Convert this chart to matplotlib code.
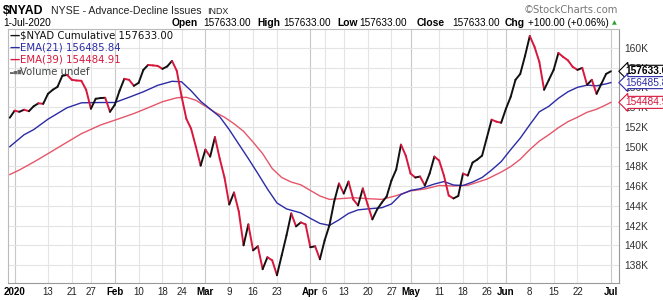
import numpy as np
import matplotlib.pyplot as plt
from matplotlib.collections import LineCollection
from matplotlib.transforms import blended_transform_factory

# trading-day index: -1 = 31-Dec-2019, 0 = 2-Jan-2020 ... 125 = 1-Jul-2020
days = np.arange(-1, 126)

# $NYAD cumulative, in thousands
nyad = [152.93, 153.64, 153.53, 153.74, 153.59, 154.09, 154.39, 154.34, 155.35, 155.76,
        156.06, 157.17, 157.27, 156.77, 156.70, 156.67, 155.76, 153.84, 154.85, 154.92,
        154.95, 153.53, 154.24, 155.66, 156.87, 156.77, 156.16, 156.46, 157.78, 158.28,
        158.23, 158.18, 157.88, 158.13, 158.69, 157.68, 155.10, 152.83, 151.82, 150.00,
        148.08, 149.70, 148.99, 150.96, 148.79, 146.87, 144.14, 145.35, 143.43, 140.00,
        142.12, 139.49, 139.90, 137.58, 138.79, 138.48, 136.97, 138.99, 141.01, 143.23,
        141.92, 142.32, 142.12, 139.80, 139.90, 138.59, 140.51, 142.02, 144.44, 146.26,
        145.25, 146.46, 144.65, 144.04, 145.76, 144.14, 142.63, 143.64, 144.34, 144.95,
        146.57, 147.68, 150.20, 149.09, 147.27, 146.87, 146.97, 146.06, 147.27, 148.99,
        148.59, 147.07, 145.05, 144.75, 145.00, 147.27, 147.07, 148.38, 148.69, 149.09,
        150.91, 152.73, 152.53, 152.42, 153.84, 155.05, 156.77, 157.37, 159.19, 161.21,
        160.10, 158.59, 155.76, 156.77, 157.78, 159.49, 159.09, 158.74, 158.08, 157.78,
        157.98, 156.26, 156.77, 155.35, 156.36, 157.37, 157.633]

ema21_days = [-1, 2, 4, 7, 11, 14, 18, 21, 24, 27, 30, 33, 35, 37, 39, 41, 43, 45, 47, 49,
              51, 53, 55, 57, 60, 62, 64, 66, 68, 70, 72, 74, 77, 79, 81, 83, 85, 88, 90, 92,
              94, 96, 98, 100, 102, 104, 106, 108, 110, 112, 114, 116, 118, 120, 122, 124, 125]
ema21 = [150.00, 151.21, 151.72, 152.78, 153.94, 154.44, 154.47, 154.47, 155.00, 155.56,
         156.21, 156.62, 156.57, 155.66, 154.60, 153.81, 153.03, 151.72, 150.25, 148.79,
         147.27, 145.71, 144.29, 143.69, 143.28, 142.73, 142.22, 142.02, 142.58, 143.23,
         143.59, 143.69, 143.81, 144.19, 145.15, 145.56, 145.73, 146.21, 146.46, 146.11,
         146.06, 146.41, 146.87, 147.63, 148.48, 149.70, 150.86, 152.22, 153.53, 154.09,
         154.90, 155.56, 156.01, 156.23, 156.16, 156.36, 156.486]

ema39_days = [-1, 1, 4, 7, 11, 14, 18, 21, 25, 28, 31, 34, 36, 38, 40, 42, 44, 46, 48, 50,
              52, 54, 56, 58, 60, 62, 64, 66, 68, 71, 74, 77, 80, 83, 86, 89, 92, 95, 99, 102,
              104, 106, 108, 110, 112, 114, 116, 118, 120, 122, 124, 125]
ema39 = [147.17, 147.63, 148.43, 149.29, 150.45, 151.31, 152.19, 152.68, 153.35, 153.94,
         154.55, 154.95, 155.00, 154.70, 154.09, 153.48, 152.98, 152.32, 151.55, 150.45,
         149.29, 147.78, 146.87, 146.41, 146.13, 145.56, 145.00, 144.65, 144.72, 144.82,
         144.73, 144.65, 145.03, 145.51, 145.71, 146.06, 146.01, 146.08, 146.70, 147.42,
         147.98, 148.72, 149.70, 150.56, 151.21, 151.92, 152.53, 152.98, 153.48, 153.79,
         154.24, 154.485]

tick_days = [0, 7, 12, 16, 21, 26, 31, 35, 40, 45, 50, 55, 62, 65, 69, 74, 79, 83, 89, 94,
             99, 103, 108, 113, 118, 125]
tick_labels = ['2020', '13', '21', '27', 'Feb', '10', '18', '24', 'Mar', '9', '16', '23',
               'Apr', '6', '13', '20', '27', 'May', '11', '18', '26', 'Jun', '8', '15', '22', 'Jul']
month_labels = {'2020', 'Feb', 'Mar', 'Apr', 'May', 'Jun', 'Jul'}

up_col = '#111111'
dn_col = '#d8173c'
e21_col = '#2b2ba6'
e39_col = '#e4566a'

W, H = 663, 300
fig = plt.figure(figsize=(W / 100, H / 100), dpi=100)
ax = fig.add_axes([8 / W, 1 - 283 / H, (619 - 8) / W, (283 - 29) / H])

# gridlines
for d, lab in zip(tick_days, tick_labels):
    c = '#c8c8c8' if lab in month_labels else '#e4e4e4'
    ax.axvline(d, color=c, lw=0.8, zorder=0)
for v in np.arange(138, 162, 2):
    ax.axhline(v, color='#e4e4e4', lw=0.8, zorder=0)

ax.plot(ema39_days, ema39, color=e39_col, lw=1.0, zorder=2)
ax.plot(ema21_days, ema21, color=e21_col, lw=1.0, zorder=3)

pts = np.column_stack([days, nyad])
segs = np.stack([pts[:-1], pts[1:]], axis=1)
cols = [up_col if b >= a else dn_col for a, b in zip(nyad[:-1], nyad[1:])]
ax.add_collection(LineCollection(segs, colors=cols, linewidths=1.4, zorder=4,
                                 capstyle='round', joinstyle='round'))

ax.set_xlim(-1.38, 126.7)
ax.set_ylim(136.18, 161.92)

ax.set_xticks(tick_days)
ax.set_xticklabels(tick_labels, fontsize=7, family='Liberation Sans', color='#222222')
for t in ax.get_xticklabels():
    if t.get_text() in month_labels:
        t.set_fontweight('bold')
        t.set_color('#000000')
ax.tick_params(axis='x', length=0, pad=3)

yt = np.arange(138, 162, 2)
ax.yaxis.tick_right()
ax.set_yticks(yt)
ax.set_yticklabels([f'{v}K' for v in yt], fontsize=7.4, family='Liberation Sans', color='#333333')
ax.tick_params(axis='y', length=0, pad=4)

for s in ['left', 'top']:
    ax.spines[s].set_color('#bbbbbb')
    ax.spines[s].set_linewidth(0.8)
ax.spines['bottom'].set_color('#999999')
ax.spines['bottom'].set_linewidth(0.8)
ax.spines['right'].set_color('#999999')
ax.spines['right'].set_linestyle((0, (1, 1)))
ax.spines['right'].set_linewidth(0.8)

# legend block inside plot
leg = [('\u2014', '$NYAD Cumulative 157633.00', '#111111', '#111111'),
       ('\u2014', 'EMA(21) 156485.84', e21_col, e21_col),
       ('\u2014', 'EMA(39) 154484.91', dn_col, dn_col)]
for k, (mk, txt, mc, tc) in enumerate(leg):
    y = 1 - (36 + 12 * k) / H
    fig.text(10 / W, y, mk, color=mc, fontsize=7.5, fontweight='bold', va='center', family='DejaVu Sans')
    fig.text(20 / W, y, txt, color=tc, fontsize=7.3, va='center', family='DejaVu Sans')
fig.text(10 / W, 1 - 72 / H, '\u2583\u2585\u2587', color='#666666', fontsize=3.5, va='center')
fig.text(20 / W, 1 - 72 / H, 'Volume undef', color='#444444', fontsize=7.3, va='center', family='DejaVu Sans')

# header
fig.text(3 / W, 1 - 11 / H, '$NYAD', fontsize=8.8, fontweight='bold', family='Liberation Sans', va='center')
fig.text(51 / W, 1 - 11 / H, 'NYSE - Advance-Decline Issues', fontsize=7.6, family='Liberation Sans', va='center', color='#222222')
fig.text(207 / W, 1 - 11 / H, 'INDX', fontsize=6.4, family='Liberation Sans', va='center', color='#222222')
fig.text(3 / W, 1 - 23 / H, '1-Jul-2020', fontsize=7.3, family='Liberation Sans', va='center')
hdr = [(172, 'Open', True), (203, '157633.00', False), (257, 'High', True), (283, '157633.00', False),
       (337, 'Low', True), (359, '157633.00', False), (417, 'Close', True), (452, '157633.00', False),
       (505, 'Chg', True), (528, '+100.00 (+0.06%)', False)]
for x, t, b in hdr:
    fig.text(x / W, 1 - 23 / H, t, fontsize=7.4 if b else 7.2, family='Liberation Sans',
             fontweight='bold' if b else 'normal', va='center')
fig.text(612 / W, 1 - 23 / H, '\u25b2', fontsize=4.5, color='#2e9e2e', va='center')
fig.text(618 / W, 1 - 10 / H, '\u00a9StockCharts.com', fontsize=7.2, color='#777777',
         family='DejaVu Sans', ha='right', va='center')

# last-value tags on right axis (cut off by the image edge, as in the original)
tr = blended_transform_factory(ax.transAxes, ax.transData)
tags = [(nyad[-1], '157633.00', '#000000', 'bold'),
        (ema21[-1], '156485.84', e21_col, 'normal'),
        (ema39[-1], '154484.91', dn_col, 'normal')]
for v, txt, c, w in tags:
    ax.text(1.01, v, txt, transform=tr, fontsize=7.3, fontweight=w, color='#000000' if w == 'bold' else c,
            family='Liberation Sans', va='center', ha='left', clip_on=False, zorder=10,
            bbox=dict(boxstyle='larrow,pad=0.1', fc='white', ec=c, lw=0.8))

fig.savefig('out.png', dpi=100)
